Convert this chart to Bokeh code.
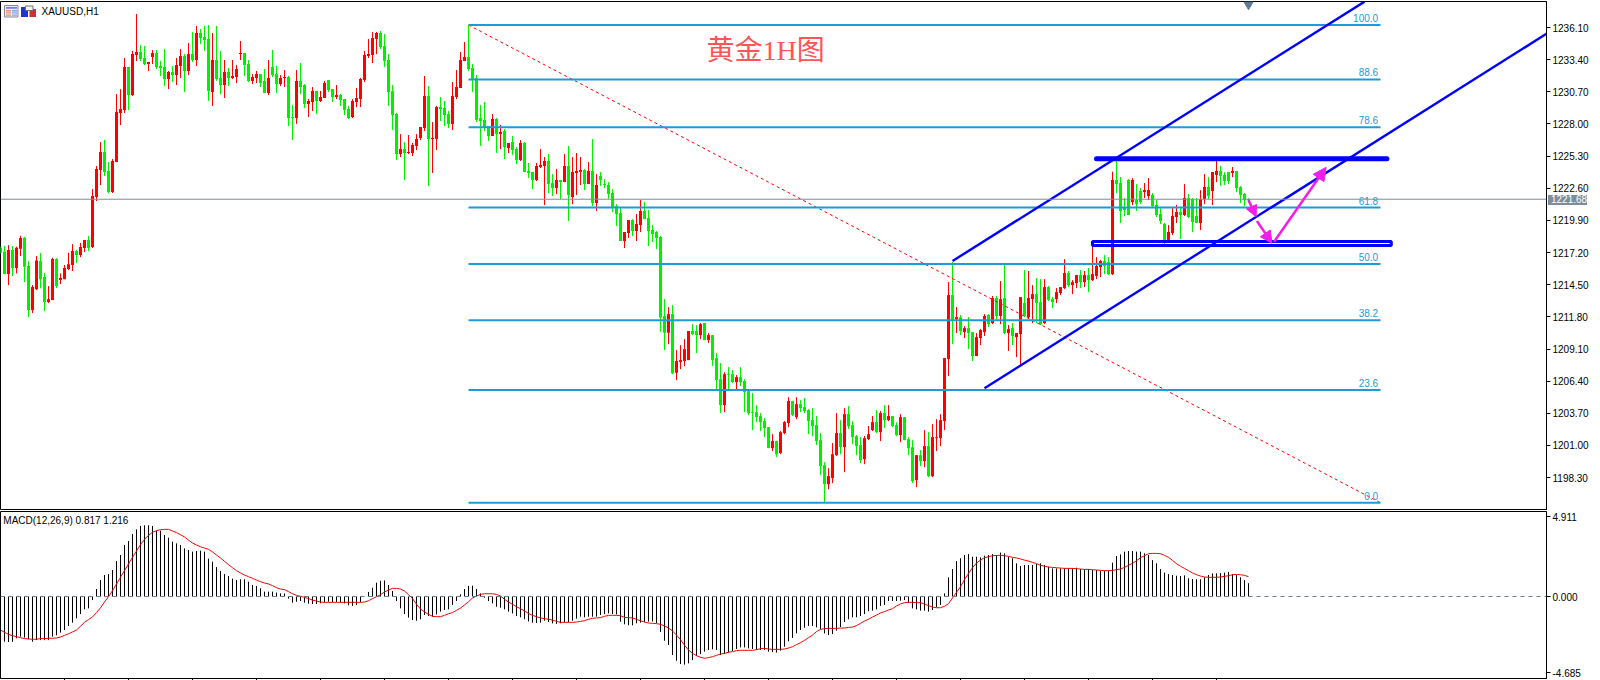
from bokeh.plotting import figure
from bokeh.layouts import column
from bokeh.models import (Range1d, FixedTicker, NumeralTickFormatter, Span, Label, ColumnDataSource,
                          Arrow, NormalHead, Div)
from bokeh.core.properties import value
from bokeh.embed import file_html
from bokeh.resources import INLINE

highs = [1217.69,1217.75,1217.83,1217.75,1217.69,1218.61,1218.50,1216.49,1214.47,1216.91,
1217.16,1215.48,1214.39,1216.77,1216.74,1215.45,1216.15,1217.19,1217.91,1217.41,
1218.00,1218.25,1218.59,1222.53,1224.47,1226.48,1226.65,1224.80,1225.05,1230.51,
1230.93,1233.54,1232.78,1234.13,1237.23,1234.63,1234.55,1233.20,1234.21,1234.21,
1233.29,1234.29,1232.45,1232.87,1233.54,1234.29,1233.87,1234.80,1235.72,1236.23,
1235.97,1236.23,1236.31,1235.64,1236.23,1234.13,1233.37,1232.70,1233.37,1232.95,
1234.97,1233.96,1233.37,1232.19,1232.45,1232.19,1232.61,1233.37,1234.21,1232.87,
1232.11,1232.53,1232.03,1229.59,1232.53,1233.12,1231.35,1230.09,1231.10,1230.77,
1230.77,1231.61,1231.69,1230.93,1231.27,1230.51,1230.09,1229.51,1230.09,1231.02,
1231.86,1234.13,1235.13,1235.72,1235.72,1235.81,1235.55,1233.87,1231.27,1228.92,
1227.15,1226.48,1227.07,1226.40,1227.15,1227.74,1232.03,1231.19,1228.16,1229.51,
1230.26,1229.93,1229.09,1231.52,1232.53,1234.04,1234.88,1236.31,1233.03,1232.11,
1229.59,1229.84,1227.83,1228.83,1228.50,1227.91,1227.57,1226.40,1226.99,1226.06,
1226.65,1226.48,1224.72,1223.96,1224.72,1225.89,1225.22,1225.47,1223.79,1224.21,
1223.29,1225.47,1226.15,1225.22,1225.56,1225.22,1224.21,1224.80,1226.73,1223.79,
1223.96,1223.37,1223.12,1222.53,1221.27,1221.02,1218.92,1219.93,1220.01,1220.43,
1221.61,1221.44,1220.77,1219.51,1219.01,1218.59,1213.29,1212.62,1212.79,1209.01,
1209.43,1209.93,1210.61,1211.19,1211.11,1211.28,1211.28,1210.44,1210.27,1208.76,
1207.92,1207.16,1207.58,1207.33,1206.91,1207.58,1206.57,1205.73,1205.40,1204.39,
1203.72,1203.30,1202.54,1201.95,1201.37,1202.21,1203.05,1205.06,1204.73,1205.06,
1204.81,1204.98,1204.05,1204.14,1203.47,1202.04,1199.60,1199.10,1201.20,1203.72,
1203.13,1204.14,1204.31,1203.05,1201.87,1201.70,1201.79,1202.63,1203.47,1203.97,
1203.89,1204.39,1204.39,1203.47,1202.96,1203.63,1203.38,1201.70,1201.45,1200.19,
1200.61,1202.29,1202.12,1202.79,1203.21,1203.63,1208.34,1214.72,1216.40,1212.62,
1211.95,1211.03,1211.78,1210.52,1210.44,1210.77,1212.03,1212.03,1213.55,1213.55,
1214.81,1216.15,1211.11,1211.28,1210.44,1213.46,1215.73,1215.65,1214.47,1215.06,
1214.97,1214.97,1214.39,1213.46,1214.22,1214.30,1216.65,1215.65,1214.89,1215.31,
1215.73,1215.65,1215.90,1218.17,1216.82,1216.57,1216.99,1216.82,1223.99,1225.05,
1223.54,1221.78,1223.37,1223.46,1222.95,1222.62,1223.04,1223.46,1222.20,1221.61,
1220.94,1219.68,1219.51,1220.94,1221.19,1221.02,1222.95,1222.11,1221.78,1221.78,
1222.45,1223.79,1223.54,1223.96,1225.05,1224.47,1223.96,1223.96,1224.38,1224.05,
1222.79,1222.20,1221.78]

lows = [1217.13,1215.39,1214.47,1215.23,1215.45,1216.91,1214.72,1211.78,1212.12,1214.05,
1214.19,1212.29,1212.96,1213.21,1214.22,1214.55,1214.97,1215.73,1215.65,1216.32,
1216.82,1217.24,1217.33,1217.58,1221.53,1222.87,1223.63,1222.17,1222.20,1224.80,
1227.91,1228.92,1229.17,1230.35,1233.29,1233.29,1232.95,1232.45,1233.03,1232.61,
1232.03,1231.19,1230.93,1231.52,1231.27,1231.86,1230.68,1232.11,1233.20,1232.87,
1234.71,1234.13,1229.93,1229.51,1231.61,1230.51,1230.18,1231.19,1231.77,1231.44,
1233.37,1232.03,1231.52,1231.35,1231.44,1231.10,1230.60,1230.43,1231.94,1230.60,
1231.19,1231.10,1227.83,1226.65,1228.01,1230.51,1229.34,1228.58,1229.09,1228.83,
1229.84,1230.18,1230.68,1229.84,1230.09,1229.51,1228.75,1228.41,1228.50,1229.42,
1229.42,1231.52,1233.54,1233.12,1233.87,1234.29,1232.78,1229.51,1227.49,1224.97,
1225.22,1223.29,1225.47,1225.31,1225.81,1226.65,1227.41,1222.79,1223.88,1225.81,
1228.25,1227.83,1227.66,1227.49,1230.09,1231.02,1233.29,1232.45,1230.68,1228.16,
1226.15,1227.41,1226.57,1226.99,1225.56,1225.89,1225.05,1225.56,1225.39,1224.63,
1224.89,1223.96,1223.46,1222.53,1223.21,1224.30,1221.19,1222.20,1221.95,1222.11,
1221.69,1223.12,1219.85,1221.27,1222.03,1222.87,1222.45,1222.95,1221.11,1220.69,
1222.79,1222.62,1221.69,1220.60,1219.43,1218.17,1217.58,1218.42,1218.59,1218.17,
1218.92,1220.01,1217.75,1218.08,1217.49,1210.55,1209.01,1209.51,1206.99,1206.49,
1207.41,1207.67,1208.17,1210.27,1208.76,1209.93,1209.85,1209.60,1207.67,1205.73,
1203.72,1203.80,1205.73,1206.24,1205.73,1205.99,1203.80,1203.55,1202.29,1202.96,
1202.21,1201.70,1200.78,1200.53,1200.02,1200.27,1201.95,1202.54,1203.47,1203.21,
1203.80,1203.72,1201.95,1201.79,1201.03,1198.51,1196.24,1197.33,1197.84,1200.11,
1200.27,1198.76,1202.37,1201.11,1200.19,1199.52,1199.43,1201.45,1202.21,1202.04,
1201.37,1202.46,1203.05,1202.54,1201.79,1201.28,1201.45,1200.19,1197.84,1197.50,
1199.27,1199.18,1198.34,1198.34,1200.53,1200.95,1202.29,1206.83,1209.51,1210.44,
1210.27,1210.02,1209.09,1208.09,1208.51,1209.43,1210.19,1210.94,1211.19,1211.61,
1211.19,1210.35,1208.93,1209.43,1208.42,1207.75,1211.78,1211.61,1211.28,1211.28,
1211.11,1211.19,1213.13,1212.54,1212.96,1213.63,1214.13,1214.30,1213.71,1214.22,
1214.22,1214.30,1213.88,1214.81,1214.97,1215.14,1215.39,1215.31,1215.31,1222.20,
1219.68,1220.27,1220.35,1221.19,1220.69,1221.27,1221.78,1221.61,1221.02,1220.18,
1219.59,1217.83,1218.00,1218.67,1219.68,1218.33,1220.27,1220.10,1218.92,1219.68,
1219.09,1221.27,1221.69,1221.19,1223.12,1222.79,1222.87,1222.95,1223.54,1222.28,
1221.36,1221.11,1221.36]

body_top = [1217.63,1217.27,1217.41,1217.41,1217.61,1218.42,1218.45,1216.07,1214.30,1216.54,
1216.49,1215.14,1213.29,1216.65,1216.65,1215.06,1215.90,1216.21,1217.33,1217.33,
1217.66,1218.25,1218.25,1221.95,1224.21,1225.64,1225.64,1224.05,1224.89,1229.00,
1229.25,1232.78,1232.78,1233.87,1234.04,1234.04,1233.54,1233.20,1233.96,1233.96,
1232.87,1232.78,1232.36,1232.36,1232.95,1233.71,1233.71,1233.87,1233.87,1235.64,
1235.64,1235.30,1235.13,1233.37,1233.37,1231.86,1232.36,1232.36,1232.03,1232.61,
1233.96,1233.96,1233.03,1231.94,1232.19,1232.19,1231.61,1231.86,1232.78,1232.19,
1231.86,1231.94,1231.94,1228.58,1231.61,1231.61,1231.27,1229.93,1230.77,1230.77,
1230.26,1231.44,1231.69,1230.93,1230.43,1230.43,1230.09,1229.25,1229.93,1230.18,
1231.77,1233.79,1233.87,1235.22,1235.64,1235.64,1234.55,1233.37,1230.77,1228.83,
1225.89,1225.89,1225.64,1226.23,1226.73,1227.74,1230.35,1230.35,1226.82,1229.42,
1229.42,1229.34,1228.83,1230.35,1231.10,1233.37,1233.62,1233.62,1232.70,1231.86,
1228.50,1228.33,1227.83,1228.41,1228.41,1227.32,1227.41,1226.40,1226.48,1225.89,
1226.40,1226.40,1224.05,1223.96,1224.47,1224.55,1224.89,1224.89,1223.04,1223.29,
1223.29,1224.47,1224.47,1223.96,1224.05,1224.13,1224.13,1224.05,1224.05,1222.87,
1223.63,1222.95,1222.87,1222.20,1221.11,1220.52,1218.92,1219.93,1219.93,1219.59,
1220.69,1220.69,1220.10,1219.09,1218.92,1218.50,1211.87,1212.03,1212.03,1208.09,
1208.17,1209.09,1210.61,1210.61,1210.61,1211.19,1211.28,1210.27,1210.27,1208.34,
1206.57,1206.99,1206.99,1206.99,1206.74,1206.74,1206.41,1205.57,1203.80,1203.80,
1203.47,1203.05,1202.54,1201.37,1201.37,1202.12,1202.96,1204.73,1204.73,1204.47,
1204.47,1204.22,1203.97,1203.13,1202.71,1201.45,1199.35,1198.43,1200.27,1202.04,
1202.04,1203.63,1203.63,1202.71,1201.79,1201.03,1201.62,1201.95,1202.96,1202.96,
1203.72,1203.72,1203.47,1203.47,1202.71,1203.38,1203.38,1201.53,1200.86,1200.19,
1200.19,1200.95,1200.95,1201.70,1201.70,1203.13,1208.34,1213.63,1213.63,1211.78,
1211.78,1210.86,1210.86,1210.52,1210.10,1210.69,1211.87,1211.95,1213.38,1213.38,
1213.29,1213.38,1210.77,1210.86,1210.44,1213.46,1212.96,1213.38,1213.71,1213.71,
1213.04,1214.30,1214.30,1213.29,1213.88,1214.30,1215.48,1215.48,1214.72,1215.31,
1215.31,1215.31,1215.31,1215.39,1216.07,1216.49,1216.49,1216.40,1223.29,1223.29,
1223.04,1220.94,1223.29,1223.29,1221.61,1222.37,1222.45,1222.45,1222.03,1221.19,
1220.43,1219.59,1218.92,1220.27,1220.60,1220.60,1221.78,1221.78,1221.69,1220.27,
1221.69,1222.70,1222.70,1223.96,1224.05,1224.05,1223.71,1223.96,1224.05,1224.05,
1222.70,1222.11,1221.69]

body_bottom = [1217.19,1215.39,1215.39,1215.90,1215.90,1217.52,1216.01,1212.37,1212.37,1214.11,
1214.97,1213.04,1213.04,1213.21,1214.39,1214.89,1214.97,1215.81,1216.15,1216.99,
1216.99,1217.58,1217.58,1217.66,1221.86,1224.13,1223.96,1222.28,1222.28,1224.80,
1228.92,1229.17,1230.43,1230.43,1233.79,1233.45,1233.03,1233.03,1233.62,1232.78,
1232.70,1231.77,1231.77,1232.11,1232.11,1232.87,1232.45,1232.45,1233.37,1233.37,
1235.22,1235.05,1230.77,1230.68,1231.77,1231.27,1231.27,1231.86,1231.86,1231.94,
1233.87,1232.95,1231.61,1231.61,1231.86,1231.44,1230.60,1230.60,1232.11,1231.35,
1231.35,1231.86,1228.50,1228.50,1228.50,1231.10,1229.67,1229.67,1229.84,1229.93,
1229.93,1230.18,1230.85,1230.26,1230.26,1230.01,1229.17,1228.50,1228.58,1229.84,
1230.09,1231.69,1233.71,1233.79,1235.13,1234.46,1233.29,1230.68,1228.75,1225.47,
1225.47,1225.56,1225.56,1225.56,1226.15,1226.82,1227.66,1226.73,1226.73,1226.73,
1229.25,1228.75,1227.99,1227.99,1230.26,1231.02,1233.29,1232.61,1231.77,1228.33,
1228.25,1227.74,1226.99,1226.99,1227.15,1227.15,1226.06,1225.98,1225.81,1224.97,
1224.97,1223.96,1223.88,1223.29,1223.29,1224.38,1224.47,1222.95,1222.62,1222.62,
1223.12,1223.12,1222.03,1221.86,1223.88,1223.96,1222.95,1222.95,1221.36,1221.36,
1223.29,1222.87,1222.11,1221.02,1220.43,1218.17,1218.17,1218.84,1219.01,1219.01,
1219.51,1220.01,1219.01,1218.75,1218.42,1211.75,1210.47,1210.47,1207.05,1207.11,
1208.00,1208.09,1208.17,1210.35,1210.27,1210.27,1209.85,1209.85,1208.17,1206.49,
1204.39,1204.39,1206.91,1206.32,1206.32,1206.32,1205.48,1203.72,1203.72,1203.38,
1202.96,1202.46,1200.78,1200.78,1200.27,1200.36,1202.04,1202.88,1203.55,1203.38,
1204.14,1203.89,1203.05,1202.63,1201.37,1199.27,1197.75,1197.75,1198.26,1200.19,
1200.86,1200.86,1202.63,1201.70,1200.95,1199.77,1199.85,1201.53,1202.29,1202.12,
1202.12,1203.13,1203.13,1202.63,1201.87,1201.87,1201.45,1200.78,1198.01,1198.09,
1199.69,1199.69,1198.43,1198.43,1201.62,1201.62,1203.05,1208.25,1211.53,1211.61,
1210.61,1210.52,1210.44,1208.51,1208.51,1210.02,1210.52,1211.19,1211.28,1211.87,
1211.87,1210.44,1210.44,1210.19,1210.10,1210.35,1211.87,1211.78,1213.29,1212.96,
1211.19,1211.28,1213.21,1213.04,1213.29,1213.80,1214.22,1214.47,1214.47,1214.64,
1214.72,1214.72,1214.89,1214.89,1215.23,1215.98,1216.07,1215.39,1215.39,1222.95,
1220.69,1220.77,1220.35,1221.44,1221.27,1221.44,1222.28,1221.95,1221.11,1220.35,
1219.85,1218.00,1218.00,1218.84,1220.18,1220.35,1220.35,1220.18,1219.76,1219.68,
1219.68,1221.69,1221.95,1222.37,1223.71,1223.63,1223.21,1223.21,1223.88,1222.62,
1222.03,1221.61,1221.61]

candle_dir = ("GGRGRRGGRR" "GGRRGRRRRG" "RRGRRRGGRR" "RRGRRGGRRG" "GGRGRRGRGR" "GGGRGGRGRR" "RGGRRGGRGG"
              "RRGGRGGRRG" "RRGGRGGGRR" "RRRRRGGGGG" "RGRRRRRGRR" "GGGRRRRGGG" "GGGRGRGRGG" "RGGGRRRGGR"
              "GRGRRRGRGR" "GGGGGGRRGR" "RGGGGGGRGR" "RRRGGRGRGG" "GRGGRGGGGG" "GGGRGRRRGR" "GGGGGGGRRR"
              "GRGGGGRRRG" "RGRGGRGGGR" "GRGRRRRRGR" "GRGGRRRGRG" "RGRGRRGRRG" "GRGGRRRGRR" "GRGRRRGGRG"
              "GGGRGGRRGG" "GGRRRGRGGG" "RRGRRGGGRG" "GGG")

macd_hist = [-2.78,-2.78,-2.80,-2.78,-2.57,-2.47,-2.53,-2.63,-2.78,-2.68,
-2.68,-2.68,-2.68,-2.47,-2.39,-2.22,-2.06,-1.81,-1.61,-1.34,
-1.08,-0.79,-0.73,-0.22,0.46,1.01,1.32,1.38,1.63,2.18,
2.55,3.17,3.41,3.84,4.13,4.34,4.38,4.38,4.34,4.05,
4.05,3.78,3.62,3.37,3.27,3.17,2.96,2.86,2.76,2.80,
2.82,2.76,2.33,2.14,1.81,1.57,1.38,1.26,1.10,1.01,
1.06,1.06,0.91,0.71,0.65,0.50,0.30,0.30,0.30,0.24,
0.19,0.19,-0.13,-0.38,-0.32,-0.28,-0.38,-0.44,-0.46,-0.46,
-0.42,-0.36,-0.32,-0.34,-0.34,-0.38,-0.42,-0.54,-0.58,-0.52,
-0.36,-0.01,0.28,0.54,0.85,0.97,0.99,0.71,0.34,-0.28,
-0.73,-1.08,-1.30,-1.45,-1.49,-1.40,-1.14,-1.20,-1.24,-1.10,
-0.93,-0.83,-0.79,-0.52,-0.28,0.13,0.46,0.65,0.67,0.46,
0.19,-0.07,-0.28,-0.42,-0.63,-0.69,-0.79,-0.93,-1.04,-1.20,
-1.28,-1.40,-1.53,-1.61,-1.63,-1.61,-1.49,-1.57,-1.65,-1.69,
-1.65,-1.59,-1.57,-1.49,-1.36,-1.24,-1.28,-1.24,-1.24,-1.24,
-1.14,-1.08,-1.04,-1.08,-1.10,-1.55,-1.71,-1.77,-1.77,-1.65,
-1.61,-1.57,-1.55,-1.53,-1.65,-2.18,-2.72,-2.98,-3.60,-3.95,
-4.15,-4.19,-4.11,-3.91,-3.66,-3.54,-3.39,-3.29,-3.25,-3.29,
-3.60,-3.54,-3.45,-3.35,-3.23,-3.13,-3.13,-3.19,-3.23,-3.27,
-3.29,-3.29,-3.39,-3.41,-3.45,-3.33,-3.09,-2.76,-2.55,-2.27,
-2.06,-1.92,-1.81,-1.81,-1.90,-2.02,-2.27,-2.37,-2.31,-2.10,
-1.88,-1.57,-1.40,-1.28,-1.28,-1.20,-1.08,-0.91,-0.87,-0.79,
-0.58,-0.52,-0.28,-0.28,-0.28,-0.26,-0.22,-0.38,-0.73,-0.79,
-0.87,-0.87,-0.93,-0.83,-0.67,-0.52,0.19,1.18,1.69,2.18,
2.35,2.55,2.61,2.45,2.45,2.41,2.51,2.55,2.61,2.55,
2.70,2.65,2.45,2.35,2.04,1.88,1.94,1.94,1.94,2.00,
2.04,1.94,1.83,1.73,1.73,1.73,1.73,1.73,1.73,1.77,
1.69,1.69,1.69,1.63,1.63,1.59,1.59,1.59,2.08,2.49,
2.59,2.76,2.80,2.80,2.76,2.76,2.65,2.55,2.24,2.04,
1.69,1.47,1.38,1.32,1.28,1.26,1.30,1.12,1.08,1.06,
1.06,1.18,1.32,1.42,1.42,1.44,1.47,1.51,1.38,1.32,
1.18,1.01,0.817]

macd_signal = [-2.06,-2.20,-2.33,-2.41,-2.47,-2.53,-2.59,-2.61,-2.63,-2.63,
-2.59,-2.59,-2.57,-2.57,-2.55,-2.49,-2.39,-2.29,-2.18,-2.06,
-1.83,-1.59,-1.42,-1.26,-0.99,-0.69,-0.34,-0.01,0.36,0.77,
1.18,1.59,2.00,2.41,2.80,3.19,3.52,3.76,3.95,4.05,
4.11,4.13,4.13,4.03,3.93,3.80,3.66,3.47,3.29,3.17,
3.06,2.98,2.90,2.74,2.55,2.37,2.16,1.96,1.77,1.59,
1.45,1.32,1.22,1.12,1.01,0.91,0.83,0.77,0.67,0.54,
0.46,0.42,0.30,0.17,0.07,0.01,-0.05,-0.13,-0.22,-0.28,
-0.34,-0.36,-0.36,-0.36,-0.36,-0.36,-0.36,-0.36,-0.36,-0.36,
-0.36,-0.34,-0.26,-0.13,-0.01,0.11,0.28,0.40,0.50,0.50,
0.46,0.34,0.11,-0.13,-0.48,-0.77,-0.95,-1.10,-1.22,-1.24,
-1.24,-1.16,-1.06,-0.99,-0.85,-0.71,-0.52,-0.32,-0.09,0.03,
0.13,0.17,0.17,0.17,0.13,0.03,-0.17,-0.34,-0.48,-0.63,
-0.75,-0.89,-1.04,-1.16,-1.24,-1.32,-1.36,-1.40,-1.45,-1.53,
-1.59,-1.59,-1.59,-1.59,-1.57,-1.53,-1.49,-1.40,-1.34,-1.32,
-1.30,-1.22,-1.16,-1.16,-1.16,-1.18,-1.28,-1.30,-1.32,-1.40,
-1.49,-1.57,-1.63,-1.65,-1.67,-1.71,-1.81,-1.94,-2.12,-2.37,
-2.65,-3.00,-3.29,-3.50,-3.64,-3.74,-3.80,-3.76,-3.70,-3.62,
-3.54,-3.50,-3.43,-3.39,-3.33,-3.31,-3.31,-3.31,-3.31,-3.27,
-3.21,-3.19,-3.23,-3.25,-3.25,-3.25,-3.23,-3.17,-3.09,-2.96,
-2.84,-2.70,-2.53,-2.37,-2.16,-2.02,-1.98,-1.96,-1.96,-1.96,
-1.94,-1.94,-1.90,-1.88,-1.79,-1.65,-1.51,-1.40,-1.26,-1.14,
-1.01,-0.93,-0.83,-0.75,-0.58,-0.46,-0.38,-0.36,-0.36,-0.38,
-0.38,-0.46,-0.56,-0.65,-0.69,-0.69,-0.60,-0.44,-0.09,0.26,
0.60,1.04,1.42,1.77,2.06,2.24,2.39,2.45,2.51,2.53,
2.53,2.51,2.47,2.41,2.37,2.31,2.24,2.18,2.10,2.02,
1.92,1.86,1.81,1.79,1.77,1.75,1.73,1.73,1.73,1.71,
1.69,1.67,1.67,1.65,1.63,1.61,1.59,1.59,1.61,1.65,
1.69,1.79,1.92,2.04,2.20,2.39,2.51,2.63,2.65,2.65,
2.63,2.53,2.41,2.22,2.02,1.86,1.73,1.59,1.45,1.34,
1.26,1.20,1.18,1.18,1.18,1.20,1.24,1.28,1.34,1.36,1.34,1.30,1.216]

price_ticks = [1236.10,1233.40,1230.70,1228.00,1225.30,1222.60,1219.90,1217.20,1214.50,1211.80,1209.10,1206.40,1203.70,1201.00,1198.30]
macd_ticks = [4.911,0.0,-4.685]
fib_levels = [1236.31,1231.74,1227.72,1220.98,1216.25,1211.52,1205.66,1196.19]
fib_labels = ["100.0","88.6","78.6","61.8","50.0","38.2","23.6","0.0"]
last_price = 1221.68

FIB = "#1C9BD8"
BLUE = "#0000FF"
PINK = "#F01EE6"
UI = "Liberation Sans"

n = len(highs)
xs = list(range(n))
x_range = Range1d(0, 386.5)

src = ColumnDataSource(dict(x=xs, high=highs, low=lows, top=body_top, bottom=body_bottom,
    color=["#FF0000" if d == "R" else "#00F000" for d in candle_dir]))

p = figure(frame_width=1546, frame_height=509, x_range=x_range, y_range=Range1d(1195.54, 1238.284),
           x_axis_location=None, y_axis_location="right", toolbar_location=None, output_backend="svg",
           min_border=0, min_border_top=1, background_fill_color="white", outline_line_color="black", tools="")
p.grid.visible = False
ax = p.yaxis[0]
ax.ticker = FixedTicker(ticks=price_ticks)
ax.formatter = NumeralTickFormatter(format="0.00")
ax.major_tick_in = 0; ax.major_tick_out = 4; ax.major_label_standoff = 2
ax.major_label_text_font = UI; ax.major_label_text_font_size = "10px"; ax.major_label_text_color = "black"
ax.axis_line_color = "black"; ax.major_tick_line_color = "black"
ax.minor_tick_out = 0; ax.minor_tick_in = 0

p.add_layout(Span(location=last_price, dimension="width", line_color="#808A94", line_width=1))
p.segment("x", "low", "x", "high", source=src, line_color="color", line_width=1)
p.vbar("x", 0.75, "bottom", "top", source=src, fill_color="color", line_color=None)

# trend line and Fibonacci levels
p.line([117, 345], [fib_levels[0], fib_levels[-1]], line_color="#FF0000", line_width=1, line_dash="3 3")
fib_start = 117; fib_end = 345
for lv in fib_levels:
    p.line([fib_start, fib_end], [lv, lv], line_color=FIB, line_width=2)
p.text([fib_end - 0.6] * len(fib_levels), fib_levels, text=fib_labels, text_align="right", text_baseline="bottom",
       y_offset=-3, text_color=FIB, text_font=value(UI), text_font_size="10px")

# channel
p.line([238, 341], [1216.49, 1238.27], line_color=BLUE, line_width=2.4)
p.line([246, 387], [1205.80, 1235.68], line_color=BLUE, line_width=2.4)
p.line([274, 346.6], [1225.08, 1225.08], line_color=BLUE, line_width=5, line_cap="round")
p.quad(left=[273], right=[347.7], top=[1218.13], bottom=[1217.79], fill_color=None, line_color=BLUE, line_width=3)

# hand-drawn arrows
for (x0, y0, x1, y1, sz) in [(312, 1221.61, 313.9, 1220.21, 11), (314.1, 1219.85, 317.9, 1217.98, 12), (318.4, 1218.11, 331.4, 1224.36, 13)]:
    p.add_layout(Arrow(end=NormalHead(size=sz, fill_color=PINK, line_color=PINK), x_start=x0, y_start=y0, x_end=x1, y_end=y1,
                       line_color=PINK, line_width=2.5))

p.text([176.5], [1234.2], text=["黄金1H图"], text_color="#FF5555", text_baseline="middle", text_align="left",
       text_font=value("Liberation Serif, Noto Sans CJK SC"), text_font_size="28px")

# small window icons at the chart's top left
def ix(px): return (px - 0.5) / 4
def iy(py): return 1238.41 - py / 11.907
p.quad(left=[ix(4.5)], right=[ix(18)], top=[iy(5.5)], bottom=[iy(17)], fill_color="#E8ECF8", line_color="#8A8A96", line_width=1)
p.quad(left=[ix(6)], right=[ix(17)], top=[iy(7)], bottom=[iy(8.8)], fill_color="#7B7BE8", line_color=None)
for ry in (10, 12.2, 14.4):
    p.quad(left=[ix(6)], right=[ix(11)], top=[iy(ry)], bottom=[iy(ry + 1.4)], fill_color="#E8907A", line_color=None)
    p.quad(left=[ix(12)], right=[ix(17)], top=[iy(ry)], bottom=[iy(ry + 1.4)], fill_color="#8CA4E8", line_color=None)
p.quad(left=[ix(21)], right=[ix(28)], top=[iy(7)], bottom=[iy(17)], fill_color="#2233D0", line_color=None)
p.quad(left=[ix(29.5)], right=[ix(36)], top=[iy(9)], bottom=[iy(17)], fill_color="#C83232", line_color=None)
p.quad(left=[ix(25.5)], right=[ix(33)], top=[iy(6)], bottom=[iy(10.5)], fill_color="#F4F4F4", line_color="#707070", line_width=1)

p.add_layout(Label(x=10.25, y=1237.44, text="XAUUSD,H1", text_font=UI, text_font_size="10px", text_color="black",
                   text_baseline="middle"))
p.scatter([312], [1238.03], marker="inverted_triangle", size=9, color="#5F7A94")

# lower panel
q = figure(frame_width=1546, frame_height=167, x_range=x_range, y_range=Range1d(-5.043, 5.228),
           y_axis_location="right", toolbar_location=None, output_backend="svg",
           min_border=0, min_border_top=1, background_fill_color="white", outline_line_color="black", tools="")
q.grid.visible = False
ay = q.yaxis[0]
ay.ticker = FixedTicker(ticks=macd_ticks)
ay.formatter = NumeralTickFormatter(format="0.000")
ay.major_tick_in = 0; ay.major_tick_out = 4; ay.major_label_standoff = 2
ay.major_label_text_font = UI; ay.major_label_text_font_size = "10px"; ay.major_label_text_color = "black"
ay.minor_tick_out = 0; ay.minor_tick_in = 0
axx = q.xaxis[0]
time_ticks = list(range(16, 320, 16))
axx.ticker = FixedTicker(ticks=time_ticks)
axx.major_label_overrides = {t: "" for t in time_ticks}
axx.major_tick_in = 0; axx.major_tick_out = 2; axx.major_label_standoff = 0; axx.minor_tick_out = 0; axx.minor_tick_in = 0
axx.major_label_text_font_size = "0px"

q.segment(xs, [0] * n, xs, macd_hist, line_color="black", line_width=1)
q.add_layout(Span(location=0, dimension="width", line_color="#6C7F99", line_width=1, line_dash="4 4"))
q.line(xs, macd_signal, line_color="#FF0000", line_width=1)
q.add_layout(Label(x=0.7, y=4.66, text="MACD(12,26,9) 0.817 1.216", text_font=UI, text_font_size="10px", text_color="black",
                   text_baseline="middle"))

# last-price tag over the price axis: annotations are clipped to the frame, so this is a page element
price_tag = Div(text="1221.68", margin=0, width=39, height=10, styles={
    "position": "absolute", "left": "1548px", "top": "195px", "width": "39px", "min-width": "39px",
    "height": "10px", "background-color": "#7F8C99", "color": "#FFFFFF", "opacity": "1",
    "font": "10px 'Liberation Sans'", "line-height": "10px", "padding-left": "3px", "box-sizing": "border-box",
    "z-index": "5"})

layout = column(p, q, price_tag, spacing=0)
open("out.html", "w").write(file_html(layout, INLINE))
